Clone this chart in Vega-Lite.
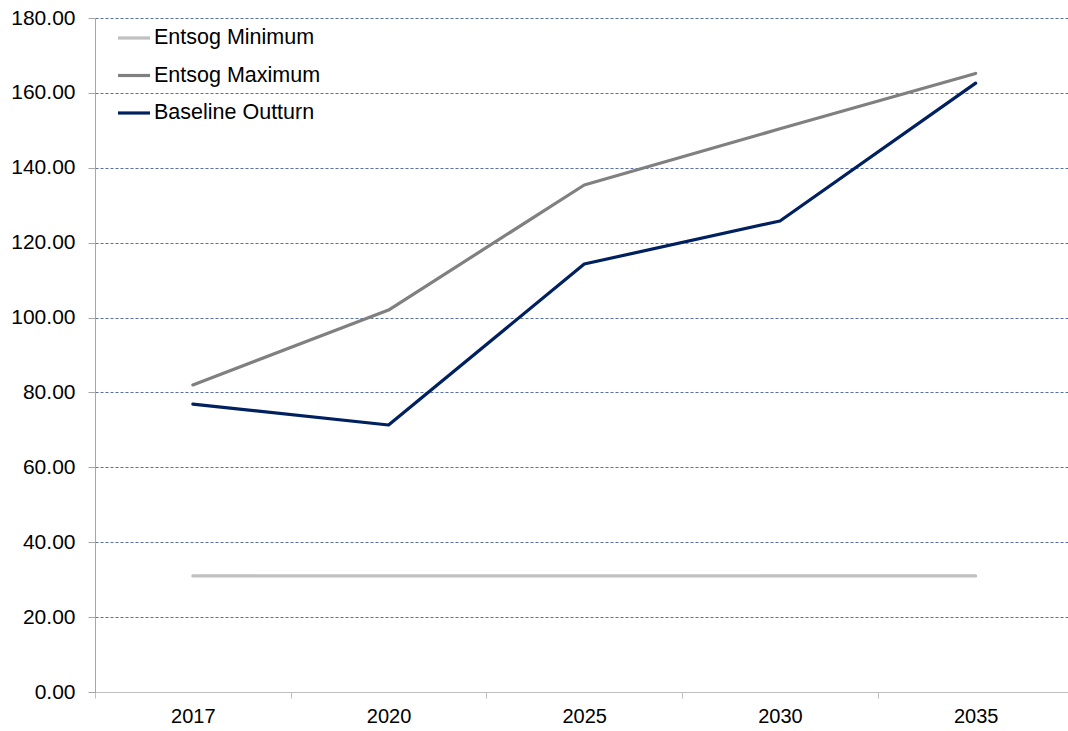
{
  "$schema": "https://vega.github.io/schema/vega-lite/v6.json",
  "autosize": {"type": "none"},
  "width": 973,
  "height": 674,
  "padding": {"left": 95, "top": 18, "right": 0, "bottom": 39},
  "background": "white",
  "config": {
    "view": {"stroke": null},
    "font": "Liberation Sans"
  },
  "data": {
    "values": [
      {"year": "2017", "series": "Entsog Minimum", "value": 31.0},
      {"year": "2020", "series": "Entsog Minimum", "value": 31.0},
      {"year": "2025", "series": "Entsog Minimum", "value": 31.0},
      {"year": "2030", "series": "Entsog Minimum", "value": 31.0},
      {"year": "2035", "series": "Entsog Minimum", "value": 31.0},
      {"year": "2017", "series": "Entsog Maximum", "value": 82.0},
      {"year": "2020", "series": "Entsog Maximum", "value": 102.0},
      {"year": "2025", "series": "Entsog Maximum", "value": 135.4},
      {"year": "2030", "series": "Entsog Maximum", "value": 150.4},
      {"year": "2035", "series": "Entsog Maximum", "value": 165.2},
      {"year": "2017", "series": "Baseline Outturn", "value": 76.9},
      {"year": "2020", "series": "Baseline Outturn", "value": 71.3},
      {"year": "2025", "series": "Baseline Outturn", "value": 114.3},
      {"year": "2030", "series": "Baseline Outturn", "value": 125.8},
      {"year": "2035", "series": "Baseline Outturn", "value": 162.6}
    ]
  },
  "mark": {"type": "line", "strokeWidth": 3.2, "strokeCap": "round", "strokeJoin": "round"},
  "encoding": {
    "x": {
      "field": "year",
      "type": "nominal",
      "bandPosition": 0.5,
      "scale": {"type": "band", "paddingInner": 0, "paddingOuter": 0, "range": [0, 978.5]},
      "axis": {
        "title": null,
        "labelAngle": 0,
        "labelFontSize": 20,
        "labelColor": "#000000",
        "labelPadding": 8,
        "tickBand": "extent",
        "tickSize": 6,
        "tickColor": "#bfbfbf",
        "domainColor": "#bfbfbf",
        "grid": false
      }
    },
    "y": {
      "field": "value",
      "type": "quantitative",
      "scale": {"domain": [0, 180], "nice": false},
      "axis": {
        "title": null,
        "values": [0, 20, 40, 60, 80, 100, 120, 140, 160, 180],
        "format": ".2f",
        "labelFontSize": 21,
        "labelColor": "#000000",
        "labelPadding": 13,
        "tickSize": 7,
        "tickColor": "#a6a6a6",
        "domainColor": "#a6a6a6",
        "grid": true,
        "gridColor": "#2f4b8f",
        "gridDash": [3, 2],
        "gridWidth": 0.8
      }
    },
    "color": {
      "field": "series",
      "type": "nominal",
      "scale": {
        "domain": ["Entsog Minimum", "Entsog Maximum", "Baseline Outturn"],
        "range": ["#c0c0c0", "#808080", "#002060"]
      },
      "legend": {
        "title": null,
        "orient": "none",
        "legendX": 21,
        "legendY": 2,
        "padding": 0,
        "symbolType": "stroke",
        "symbolSize": 1024,
        "symbolStrokeWidth": 3.2,
        "labelFontSize": 21.5,
        "labelColor": "#000000",
        "labelOffset": 2,
        "rowPadding": 8.5,
        "labelLimit": 400
      }
    }
  }
}
